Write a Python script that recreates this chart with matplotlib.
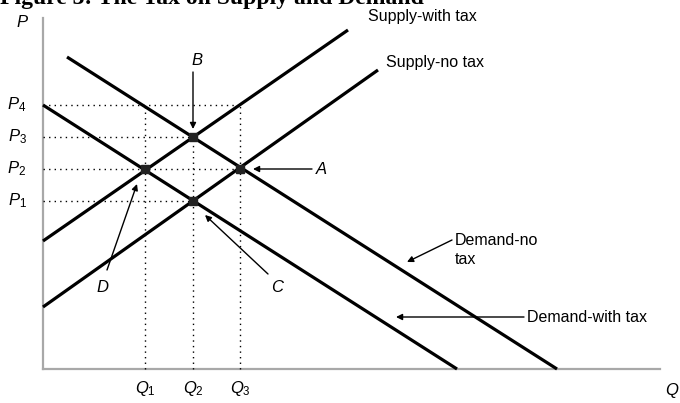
import matplotlib.pyplot as plt

# price / quantity levels of the diagram
q_levels = [10.2, 15.0, 19.7]
q_labels = ["$Q_1$", "$Q_2$", "$Q_3$"]
p_levels = [16.8, 20.0, 23.2, 26.4]
p_labels = ["$P_1$", "$P_2$", "$P_3$", "$P_4$"]

# curve end points (Q, P)
supply_tax_q = [0.0, 30.5]
supply_tax_p = [12.8, 33.9]
supply_q = [0.0, 33.5]
supply_p = [6.2, 29.9]
demand_q = [2.4, 51.4]
demand_p = [31.2, 0.0]
demand_tax_q = [0.0, 41.4]
demand_tax_p = [26.4, 0.0]

# equilibrium points A, B, C, D
pt_names = ["A", "B", "C", "D"]
pt_q = [19.7, 15.0, 15.0, 10.2]
pt_p = [20.0, 23.2, 16.8, 20.0]

plt.rcParams["font.family"] = ["Liberation Sans", "DejaVu Sans"]
plt.rcParams["mathtext.fontset"] = "custom"
plt.rcParams["mathtext.it"] = "Liberation Sans:italic"
plt.rcParams["mathtext.rm"] = "Liberation Sans"

fig = plt.figure(figsize=(6.8, 4.03), dpi=100)
ax = fig.add_axes([0, 0, 1, 1])
ax.set_xlim(-4.3, 63.7)
ax.set_ylim(-3.4, 36.9)
ax.axis("off")

# axes
ax.plot([0, 0], [0, 35.1], color="#a8a8a8", lw=1.6)
ax.plot([0, 61.7], [0, 0], color="#a8a8a8", lw=1.6)

# dotted guides
dot = dict(color="black", lw=1.0, linestyle=(0, (1, 3)))
ax.plot([0, q_levels[2]], [p_levels[3], p_levels[3]], **dot)
ax.plot([0, q_levels[1]], [p_levels[2], p_levels[2]], **dot)
ax.plot([0, q_levels[2]], [p_levels[1], p_levels[1]], **dot)
ax.plot([0, q_levels[1]], [p_levels[0], p_levels[0]], **dot)
ax.plot([q_levels[0], q_levels[0]], [0, p_levels[3]], **dot)
ax.plot([q_levels[1], q_levels[1]], [0, p_levels[2]], **dot)
ax.plot([q_levels[2], q_levels[2]], [0, p_levels[3]], **dot)

# curves
for xs, ys in [(supply_tax_q, supply_tax_p), (supply_q, supply_p),
               (demand_q, demand_p), (demand_tax_q, demand_tax_p)]:
    ax.plot(xs, ys, color="black", lw=2.3, solid_capstyle="butt")

ax.plot(pt_q, pt_p, "s", color="#222222", ms=5.5, ls="none")

# tick labels
for q, lab in zip(q_levels, q_labels):
    ax.text(q, -1.9, lab, ha="center", va="center", fontsize=12)
for p, lab in zip(p_levels, p_labels):
    ax.text(-2.6, p, lab, ha="center", va="center", fontsize=12)
ax.text(-2.1, 34.7, "$P$", ha="center", va="center", fontsize=12)
ax.text(62.9, -2.1, "$Q$", ha="center", va="center", fontsize=12)

arrow = dict(arrowstyle="-|>", color="black", lw=1.0, mutation_scale=9,
             shrinkA=0, shrinkB=0)

def note(label, xy, xytext, tail, **kw):
    ax.text(xytext[0], xytext[1], label, **kw)
    ax.annotate("", xy=xy, xytext=tail, arrowprops=arrow)

note("$B$", (15.0, 24.0), (15.4, 30.9), (15.0, 29.7),
     ha="center", va="center", fontsize=12)
note("$A$", (21.0, 20.0), (27.9, 20.0), (26.9, 20.0),
     ha="center", va="center", fontsize=12)
note("$D$", (9.4, 18.5), (6.0, 8.2), (6.4, 9.9),
     ha="center", va="center", fontsize=12)
note("$C$", (16.2, 15.4), (23.5, 8.2), (22.5, 9.5),
     ha="center", va="center", fontsize=12)
note("Demand-no\ntax", (36.4, 10.7), (41.2, 11.9), (40.9, 12.9),
     ha="left", va="center", fontsize=11.5, linespacing=1.3)
note("Demand-with tax", (35.3, 5.2), (48.4, 5.2), (48.1, 5.2),
     ha="left", va="center", fontsize=11.5)

ax.text(32.5, 35.2, "Supply-with tax", ha="left", va="center", fontsize=11.5)
ax.text(34.3, 30.6, "Supply-no tax", ha="left", va="center", fontsize=11.5)

# title, cut off by the top edge as in the scan
fig.text(0.0, 0.978, "Figure 3: The Tax on Supply and Demand", ha="left",
         va="bottom", fontsize=17, fontweight="bold",
         family=["Liberation Serif", "DejaVu Serif"])

fig.savefig("out.png", dpi=100)
